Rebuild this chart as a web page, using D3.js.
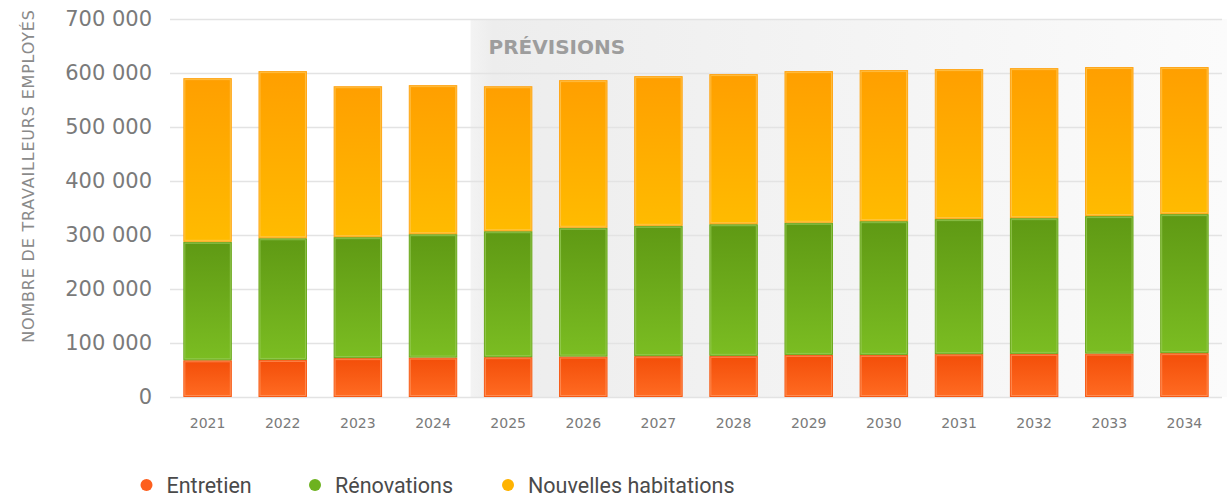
<!DOCTYPE html>
<html>
<head>
<meta charset="utf-8">
<script src="https://cdn.jsdelivr.net/npm/d3@7"></script>
<style>
  body { margin: 0; background: #fff; }
</style>
</head>
<body>
<div id="container"></div>
<script>
/* ---------- DATA ---------- */
const years = ["2021", "2022", "2023", "2024", "2025", "2026", "2027",
  "2028", "2029", "2030", "2031", "2032", "2033", "2034"];
const entretien = [68000, 68700, 72000, 73000, 73700, 74900, 75600,
  76200, 78000, 78000, 79300, 79900, 80400, 81200];
const renovations = [219400, 225300, 224000, 228500, 233300, 238500, 241400,
  243800, 244700, 247600, 250100, 251300, 254600, 257500];
const nouvelles = [303100, 309500, 279500, 276000, 268500, 273400, 277200,
  278000, 280800, 279800, 277800, 277800, 276000, 272300];
const seriesNames = ["Entretien", "Rénovations", "Nouvelles habitations"];
const yTicks = [0, 100000, 200000, 300000, 400000, 500000, 600000, 700000];
const forecastStart = "2025";

/* ---------- CONSTANTS ---------- */
const width = 1227,
  height = 498,
  margin = { top: 19, bottom: 102, left: 170, right: 5 };

const colors = {
  "Entretien": { top: "#f34e09", bottom: "#ff6b22", edge: "#f75a14", light: "#ff9a66", dot: "#fd5f1e" },
  "Rénovations": { top: "#5f9914", bottom: "#7bbd22", edge: "#6aa81a", light: "#9ccf60", dot: "#6db21f" },
  "Nouvelles habitations": { top: "#ff9f00", bottom: "#ffbb00", edge: "#ffa516", light: "#ffcb5c", dot: "#ffb300" }
};

const table = years.map((y, i) => ({
  year: y,
  "Entretien": entretien[i],
  "Rénovations": renovations[i],
  "Nouvelles habitations": nouvelles[i]
}));

const locale = d3.formatLocale({ decimal: ",", thousands: " ", grouping: [3], currency: ["", " €"] });
const fmt = locale.format(",d");

/* ---------- SCALES ---------- */
const xScale = d3.scaleBand()
  .domain(years)
  .range([margin.left, width - margin.right])
  .paddingInner(0.355)
  .paddingOuter(0.1775);

const yScale = d3.scaleLinear()
  .domain([0, 700000])
  .range([height - margin.bottom + 1, margin.top]);

const stack = d3.stack().keys(seriesNames);
const series = stack(table);

/* ---------- SVG ---------- */
const svg = d3.select("#container")
  .append("svg")
  .attr("width", width)
  .attr("height", height);

const defs = svg.append("defs");

const bg = defs.append("linearGradient")
  .attr("id", "forecastBg")
  .attr("x1", "0%").attr("x2", "100%").attr("y1", "0%").attr("y2", "0%");
bg.append("stop").attr("offset", "0%").attr("stop-color", "#f3f3f3");
bg.append("stop").attr("offset", "3%").attr("stop-color", "#ededed");
bg.append("stop").attr("offset", "100%").attr("stop-color", "#fbfbfb");

seriesNames.forEach((name, i) => {
  const g = defs.append("linearGradient")
    .attr("id", "grad" + i)
    .attr("x1", "0%").attr("x2", "0%").attr("y1", "0%").attr("y2", "100%");
  g.append("stop").attr("offset", "0%").attr("stop-color", colors[name].top);
  g.append("stop").attr("offset", "100%").attr("stop-color", colors[name].bottom);
});

// forecast shading
const step = xScale.step();
const bandX = xScale(forecastStart) - step * xScale.paddingInner() / 2;
svg.append("rect")
  .attr("x", bandX)
  .attr("y", yScale(700000))
  .attr("width", width - bandX)
  .attr("height", yScale(0) - yScale(700000))
  .attr("fill", "url(#forecastBg)");

svg.append("text")
  .attr("x", bandX + 18)
  .attr("y", 54)
  .attr("font-family", "'DejaVu Sans', sans-serif")
  .attr("font-weight", "bold")
  .attr("font-size", 20)
  .attr("fill", "#9d9d9d")
  .text("PRÉVISIONS");

// gridlines
svg.append("g")
  .selectAll("line")
  .data(yTicks)
  .join("line")
  .attr("x1", margin.left)
  .attr("x2", width - margin.right)
  .attr("y1", d => Math.round(yScale(d)) + 0.5)
  .attr("y2", d => Math.round(yScale(d)) + 0.5)
  .attr("stroke", "#e3e3e3")
  .attr("stroke-width", 1.5);

// y axis labels
const yAxis = d3.axisLeft(yScale)
  .tickValues(yTicks)
  .tickFormat(d => fmt(d))
  .tickSize(0)
  .tickPadding(0);

svg.append("g")
  .attr("transform", `translate(${152},0)`)
  .call(yAxis)
  .call(g => g.select(".domain").remove())
  .call(g => g.selectAll("text")
    .attr("font-family", "'DejaVu Sans', sans-serif")
    .attr("font-size", 21)
    .attr("fill", "#7a7a7a"));

// y axis title
svg.append("text")
  .attr("transform", `translate(34,176) rotate(-90)`)
  .attr("text-anchor", "middle")
  .attr("font-family", "'DejaVu Sans', sans-serif")
  .attr("font-size", 16)
  .attr("letter-spacing", 0.8)
  .attr("fill", "#8a8a8a")
  .text("NOMBRE DE TRAVAILLEURS EMPLOYÉS");

// x axis labels
const xAxis = d3.axisBottom(xScale).tickSize(0).tickPadding(0);
svg.append("g")
  .attr("transform", `translate(0,${418})`)
  .call(xAxis)
  .call(g => g.select(".domain").remove())
  .call(g => g.selectAll("text")
    .attr("font-family", "'DejaVu Sans', sans-serif")
    .attr("font-size", 14)
    .attr("fill", "#7a7a7a"));

/* ---------- BARS ---------- */
const layers = svg.append("g")
  .selectAll("g.layer")
  .data(series)
  .join("g")
  .attr("class", "layer");

layers.selectAll("rect.seg")
  .data((d, i) => d.map(p => ({ p, i, key: d.key })))
  .join("rect")
  .attr("class", "seg")
  .attr("x", d => xScale(d.p.data.year) + 0.5)
  .attr("y", d => yScale(d.p[1]) + 0.5)
  .attr("width", xScale.bandwidth() - 1)
  .attr("height", d => yScale(d.p[0]) - yScale(d.p[1]) - 1)
  .attr("fill", d => `url(#grad${d.i})`)
  .attr("stroke", d => colors[d.key].edge)
  .attr("stroke-width", 1);

layers.selectAll("rect.inner")
  .data((d, i) => d.map(p => ({ p, i, key: d.key })))
  .join("rect")
  .attr("class", "inner")
  .attr("x", d => xScale(d.p.data.year) + 1.5)
  .attr("y", d => yScale(d.p[1]) + 1.5)
  .attr("width", xScale.bandwidth() - 3)
  .attr("height", d => Math.max(0, yScale(d.p[0]) - yScale(d.p[1]) - 3))
  .attr("fill", "none")
  .attr("stroke", d => colors[d.key].light)
  .attr("stroke-opacity", 0.7)
  .attr("stroke-width", 1);

/* ---------- LEGEND ---------- */
const legendX = [146.5, 315, 508];
const legend = svg.append("g")
  .selectAll("g")
  .data(seriesNames)
  .join("g")
  .attr("transform", (d, i) => `translate(${legendX[i]},485)`);

legend.append("circle")
  .attr("r", 6)
  .attr("fill", d => colors[d].dot);

legend.append("text")
  .attr("x", 20)
  .attr("dy", "0.36em")
  .attr("font-family", "Roboto, sans-serif")
  .attr("font-size", 21.5)
  .attr("fill", "#4a4a4a")
  .text(d => d);
</script>
</body>
</html>
